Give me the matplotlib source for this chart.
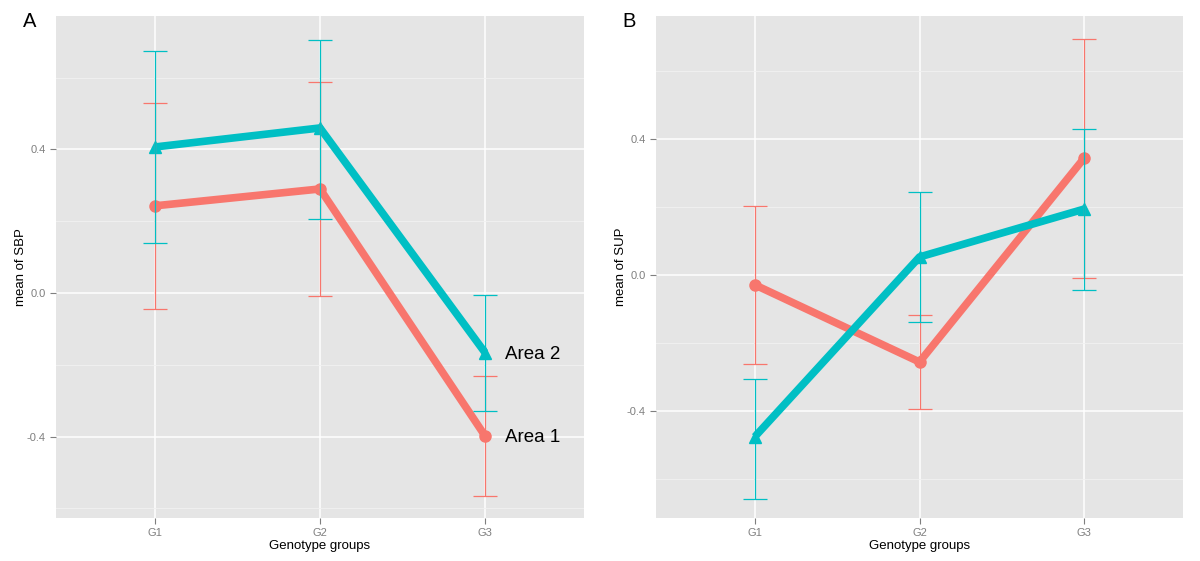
import matplotlib.pyplot as plt
import numpy as np

plt.rcParams["font.family"] = ["Liberation Sans", "DejaVu Sans"]

groups = ["G1", "G2", "G3"]
series_names = ["Area 1", "Area 2"]
colors = ["#F8766D", "#00BFC4"]
markers = ["o", "^"]

# panel A: mean of SBP
sbp_mean = [[0.243, 0.290, -0.398], [0.407, 0.460, -0.166]]
sbp_lo = [[-0.045, -0.008, -0.566], [0.139, 0.206, -0.328]]
sbp_hi = [[0.530, 0.588, -0.231], [0.674, 0.705, -0.006]]

# panel B: mean of SUP
sup_mean = [[-0.029, -0.256, 0.344], [-0.476, 0.053, 0.194]]
sup_lo = [[-0.262, -0.394, -0.009], [-0.658, -0.138, -0.044]]
sup_hi = [[0.203, -0.118, 0.693], [-0.305, 0.244, 0.430]]

fig = plt.figure(figsize=(12, 5.61), dpi=100)
axA = fig.add_axes([56 / 1200, 1 - 518 / 561, 528 / 1200, 502 / 561])
axB = fig.add_axes([656 / 1200, 1 - 518 / 561, 527 / 1200, 502 / 561])


def draw_panel(ax, means, lo, hi, ylim, ylabel, letter):
    x = np.arange(1, len(groups) + 1)
    ax.set_facecolor("#E5E5E5")
    for i in range(len(means)):
        ax.plot(x, means[i], color=colors[i], lw=5.5, marker=markers[i],
                markersize=8, solid_capstyle="butt", zorder=3 + i)
    for i in range(len(means)):
        m = np.array(means[i])
        err = [m - np.array(lo[i]), np.array(hi[i]) - m]
        ax.errorbar(x, m, yerr=err, fmt="none", ecolor=colors[i], elinewidth=0.9,
                    capsize=8.5, capthick=0.9, zorder=6)
    ax.set_xlim(0.4, 3.6)
    ax.set_ylim(*ylim)
    ax.set_xticks(x)
    ax.set_xticklabels(groups)
    ax.set_yticks([-0.4, 0.0, 0.4])
    ax.set_yticklabels(["-0.4", "0.0", "0.4"])
    ax.set_yticks([-0.6, -0.2, 0.2, 0.6], minor=True)
    ax.tick_params(axis="y", which="minor", length=0)
    ax.grid(True, which="major", color="white", lw=1.1)
    ax.grid(True, which="minor", color="#F2F2F2", lw=0.6)
    ax.set_axisbelow(True)
    for s in ax.spines.values():
        s.set_visible(False)
    ax.tick_params(which="major", length=4, color="#7F7F7F", labelcolor="#7F7F7F",
                   labelsize=8, width=0.8)
    ax.set_xlabel("Genotype groups", fontsize=9.5, labelpad=1)
    ax.set_ylabel(ylabel, fontsize=9.5, labelpad=0)
    ax.text(-0.063, 0.99, letter, transform=ax.transAxes, fontsize=14.5,
            ha="left", va="center")


draw_panel(axA, sbp_mean, sbp_lo, sbp_hi, (-0.627, 0.772), "mean of SBP", "A")
draw_panel(axB, sup_mean, sup_lo, sup_hi, (-0.715, 0.762), "mean of SUP", "B")

for i, name in enumerate(series_names):
    axA.text(3.12, sbp_mean[i][2] - 0.006, name, fontsize=13.5, ha="left", va="center")

fig.savefig("out.png", dpi=100)
